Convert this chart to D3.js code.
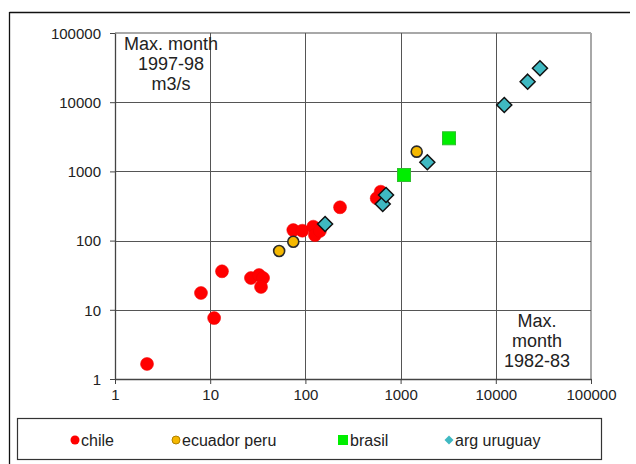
<!DOCTYPE html>
<html>
<head>
<meta charset="utf-8">
<script src="https://cdn.jsdelivr.net/npm/d3@7"></script>
<style>
  html, body { margin: 0; padding: 0; background: #fff; }
  svg { display: block; font-family: "Liberation Sans", Arial, sans-serif; }
</style>
</head>
<body>
<svg id="chart" width="636" height="464"></svg>
<script>
// ---- data ----
const seriesNames = ["chile", "ecuador peru", "brasil", "arg uruguay"];
const chileX = [2.17, 8.0, 11, 13.3, 26.8, 32.6, 35.9, 34.2, 74.6, 92.8, 121, 126, 142, 231, 618, 561];
const chileY = [1.65, 17.5, 7.6, 36, 28.8, 31.8, 28.8, 21.4, 142, 139, 159, 120, 138, 303, 509, 409];
const ecuadorX = [53, 74.6, 1476];
const ecuadorY = [70.8, 96.4, 1928];
const brasilX = [1086, 3224];
const brasilY = [887, 3010];
const argX = [161, 649, 703, 1909, 12280, 21600, 29100];
const argY = [174, 338, 456, 1353, 9116, 19800, 30900];
const tickValues = [1, 10, 100, 1000, 10000, 100000];
const labelTopLeft = ["Max. month", "1997-98", "m3/s"];
const labelBottomRight = ["Max.", "month", "1982-83"];

const svg = d3.select("#chart");

// outer frame (top and left edges visible)
svg.append("line").attr("x1", 9.5).attr("x2", 630).attr("y1", 12.5).attr("y2", 12.5)
  .attr("stroke", "#111").attr("stroke-width", 1.3);
svg.append("line").attr("x1", 9.5).attr("x2", 9.5).attr("y1", 12).attr("y2", 464)
  .attr("stroke", "#111").attr("stroke-width", 1.3);

const x = d3.scaleLog().domain([1, 100000]).range([115, 591]);
const y = d3.scaleLog().domain([1, 100000]).range([379, 33]);

// plot frame (top/right light gray)
svg.append("line").attr("x1", x(1)).attr("x2", x(100000)).attr("y1", y(100000)).attr("y2", y(100000))
  .attr("stroke", "#a8a8a8").attr("stroke-width", 2);
svg.append("line").attr("x1", x(100000)).attr("x2", x(100000)).attr("y1", y(100000)).attr("y2", y(1))
  .attr("stroke", "#a8a8a8").attr("stroke-width", 2);

// gridlines
const inner = tickValues.slice(1, -1);
svg.append("g").selectAll("line.v").data(inner).join("line")
  .attr("x1", d => Math.round(x(d)) + 0.5).attr("x2", d => Math.round(x(d)) + 0.5)
  .attr("y1", y(100000)).attr("y2", y(1))
  .attr("stroke", "#555").attr("stroke-width", 1);
svg.append("g").selectAll("line.h").data(inner).join("line")
  .attr("y1", d => Math.round(y(d)) + 0.5).attr("y2", d => Math.round(y(d)) + 0.5)
  .attr("x1", x(1)).attr("x2", x(100000))
  .attr("stroke", "#555").attr("stroke-width", 1);

// axes
const fmt = d3.format("d");
const yAxis = svg.append("g").attr("transform", `translate(${x(1)},0)`)
  .call(d3.axisLeft(y).tickValues(tickValues).tickFormat(fmt).tickSize(5).tickSizeOuter(0));
const xAxis = svg.append("g").attr("transform", `translate(0,${y(1)})`)
  .call(d3.axisBottom(x).tickValues(tickValues).tickFormat(fmt).tickSize(5).tickSizeOuter(0));
[yAxis, xAxis].forEach(a => {
  a.select(".domain").attr("stroke", "#444").attr("stroke-width", 1.3);
  a.selectAll(".tick line").attr("stroke", "#444");
  a.selectAll(".tick text").attr("fill", "#222").style("font-size", "15px")
    .style("font-family", "'Liberation Sans', Arial, sans-serif");
});
yAxis.selectAll(".tick text").attr("x", -14).attr("dy", "0.35em");
xAxis.selectAll(".tick text").attr("y", 10);

// annotations
svg.append("text").attr("text-anchor", "middle").attr("fill", "#222").style("font-size", "18px")
  .selectAll("tspan").data(labelTopLeft).join("tspan")
  .attr("x", 171).attr("y", (d, i) => 50 + i * 20).text(d => d);
svg.append("text").attr("text-anchor", "middle").attr("fill", "#222").style("font-size", "18px")
  .selectAll("tspan").data(labelBottomRight).join("tspan")
  .attr("x", 537).attr("y", (d, i) => 327 + i * 20).text(d => d);

// markers
const chile = chileX.map((v, i) => [v, chileY[i]]);
const ecuador = ecuadorX.map((v, i) => [v, ecuadorY[i]]);
const brasil = brasilX.map((v, i) => [v, brasilY[i]]);
const arg = argX.map((v, i) => [v, argY[i]]);

svg.append("g").selectAll("circle").data(chile).join("circle")
  .attr("cx", d => x(d[0])).attr("cy", d => y(d[1])).attr("r", 6.5)
  .attr("fill", "#ff0000").attr("stroke", "#f00000").attr("stroke-width", 0.5);

svg.append("g").selectAll("circle").data(ecuador).join("circle")
  .attr("cx", d => x(d[0])).attr("cy", d => y(d[1])).attr("r", 5.5)
  .attr("fill", "#f5b800").attr("stroke", "#2a2a2a").attr("stroke-width", 1.6);

svg.append("g").selectAll("rect").data(brasil).join("rect")
  .attr("x", d => x(d[0]) - 6.5).attr("y", d => y(d[1]) - 6.5).attr("width", 13).attr("height", 13)
  .attr("fill", "#00ee00").attr("stroke", "#2fbf2f").attr("stroke-width", 1);

const diamond = s => `M0,${-s}L${s},0L0,${s}L${-s},0Z`;
svg.append("g").selectAll("path").data(arg).join("path")
  .attr("transform", d => `translate(${x(d[0])},${y(d[1])})`)
  .attr("d", diamond(7.5))
  .attr("fill", "#3fb9c2").attr("stroke", "#111").attr("stroke-width", 1.5);

// legend
const lg = svg.append("g");
lg.append("rect").attr("x", 17.5).attr("y", 418.5).attr("width", 584).attr("height", 41)
  .attr("fill", "#fff").attr("stroke", "#333").attr("stroke-width", 1.2);
const legendX = [75, 176, 343, 449];
const ly = 440;
const items = lg.selectAll("g.item").data(seriesNames).join("g")
  .attr("transform", (d, i) => `translate(${legendX[i]},${ly})`);
items.each(function(d, i) {
  const g = d3.select(this);
  if (i === 0) g.append("circle").attr("r", 4.5).attr("fill", "#ff0000");
  if (i === 1) g.append("circle").attr("r", 4).attr("fill", "#f5b800").attr("stroke", "#b08000").attr("stroke-width", 1);
  if (i === 2) g.append("rect").attr("x", -5).attr("y", -5).attr("width", 10).attr("height", 10).attr("fill", "#00ee00");
  if (i === 3) g.append("path").attr("d", diamond(4.5)).attr("fill", "#3fb9c2");
  g.append("text").attr("x", i === 2 ? 7 : 6).attr("y", 0).attr("dy", "0.35em")
    .attr("fill", "#222").style("font-size", "16px").text(d);
});
</script>
</body>
</html>
